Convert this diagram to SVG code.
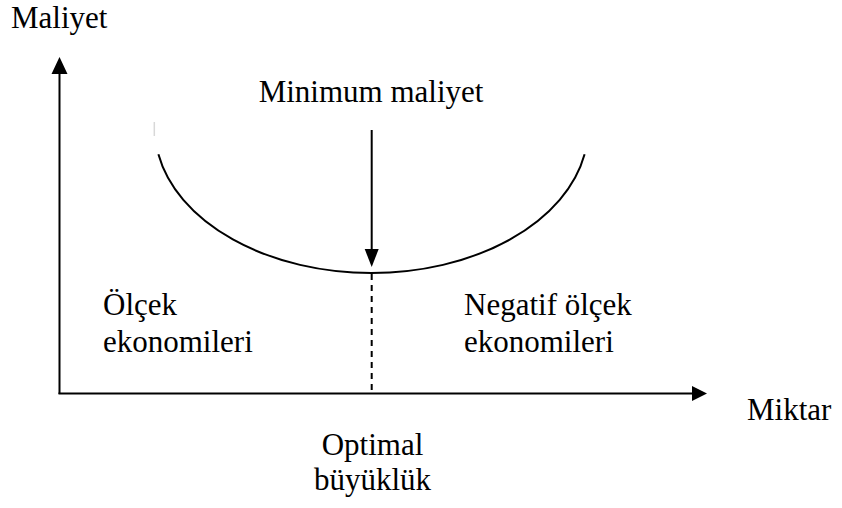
<svg xmlns="http://www.w3.org/2000/svg" width="842" height="508" viewBox="0 0 842 508">
<style>
text{font-family:"Liberation Serif","Times New Roman",serif;font-size:31px;fill:#000}
.ln{stroke:#000;stroke-width:2;fill:none}
.ah{fill:#000;stroke:none}
</style>
<rect width="842" height="508" fill="#fff"/>
<g id="connectors">
  <line class="ln" x1="59.5" y1="72" x2="59.5" y2="394"/>
  <polygon class="ah" points="59.5,57 51.5,74 67.5,74"/>
  <line class="ln" x1="58.5" y1="393.5" x2="694" y2="393.5"/>
  <polygon class="ah" points="707,393.5 692,386 692,401"/>
  <line class="ln" x1="371.7" y1="130" x2="371.7" y2="252"/>
  <polygon class="ah" points="371.7,267 364.7,249 378.7,249"/>
  <line class="ln" x1="371.7" y1="274" x2="371.7" y2="393" stroke-dasharray="6,5"/>
</g>
<g id="curve">
  <line x1="154.3" y1="122" x2="154.3" y2="136" stroke="#d8d8d8" stroke-width="1.5"/>
  <path class="ln" d="M158.4,154.3 A216.7,145 0 0 0 584.6,154.3"/>
</g>
<g id="y-axis-label"><text x="11" y="28">Maliyet</text></g>
<g id="x-axis-label"><text x="747" y="420">Miktar</text></g>
<g id="minimum-label"><text x="371" y="102" text-anchor="middle">Minimum maliyet</text></g>
<g id="left-region"><text x="103" y="315">Ölçek</text><text x="103" y="351.7">ekonomileri</text></g>
<g id="right-region"><text x="464" y="315">Negatif ölçek</text><text x="464" y="351.7">ekonomileri</text></g>
<g id="optimal-label"><text x="372.5" y="455" text-anchor="middle">Optimal</text><text x="372.5" y="490" text-anchor="middle">büyüklük</text></g>
</svg>
